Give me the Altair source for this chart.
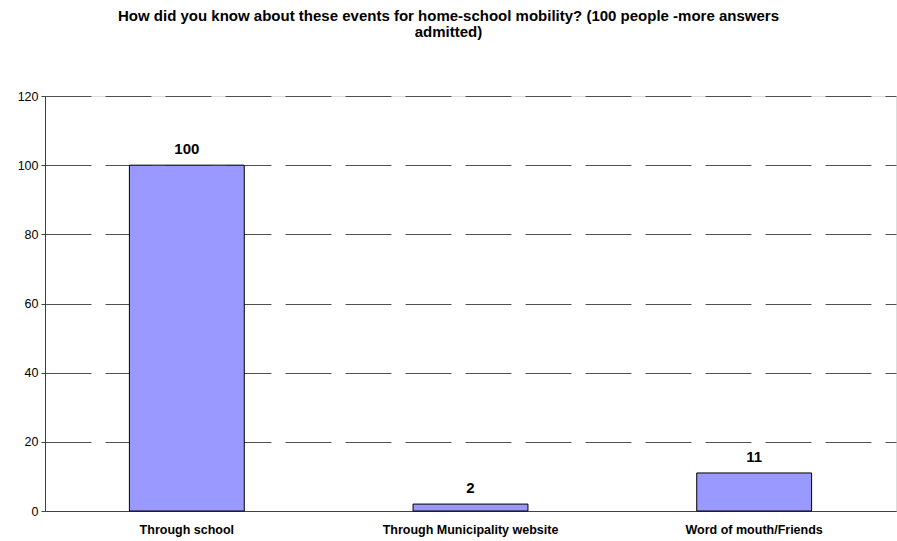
import altair as alt
import pandas as pd

categories = ["Through school", "Through Municipality website", "Word of mouth/Friends"]
values = [100, 2, 11]

df = pd.DataFrame({"cat": categories, "val": values})

base = alt.Chart(df).encode(
    x=alt.X("cat:N", sort=categories, title=None,
            scale=alt.Scale(paddingInner=0.595, paddingOuter=0.2975),
            axis=alt.Axis(labelAngle=0, labelFont="Liberation Sans", labelFontWeight="bold",
                          labelFontSize=12.5, labelColor="#000000", ticks=False,
                          domainColor="#404040", labelPadding=12, grid=False)),
    y=alt.Y("val:Q", title=None,
            scale=alt.Scale(domain=[0, 120], nice=False),
            axis=alt.Axis(values=[0, 20, 40, 60, 80, 100, 120], labelFont="Liberation Sans",
                          labelFontSize=12.5, labelColor="#000000", tickSize=4,
                          tickColor="#404040", domainColor="#404040", labelPadding=3,
                          grid=True, gridDash=[46, 14], gridColor="#505050", gridWidth=1)),
)

bars = base.mark_bar(color="#9999FF", stroke="#000000", strokeWidth=1)
text = base.mark_text(dy=-8, font="Liberation Sans", fontWeight="bold", fontSize=15,
                      color="#000000", baseline="bottom").encode(text="val:Q")

chart = (bars + text).properties(
    width=851, height=415,
    title=alt.TitleParams(
        ["How did you know about these events for home-school mobility? (100 people -more answers",
         "admitted)"],
        font="Liberation Sans", fontSize=15, fontWeight="bold", color="#000000",
        anchor="middle", dx=-22, offset=50, lineHeight=16.5),
    padding={"left": 45, "top": 96, "right": 1, "bottom": 30},
    autosize=alt.AutoSizeParams(type="none"),
).configure_view(stroke=None).configure(background="#ffffff")

chart.save("out.html", embed_options={"renderer": "svg", "actions": False})
